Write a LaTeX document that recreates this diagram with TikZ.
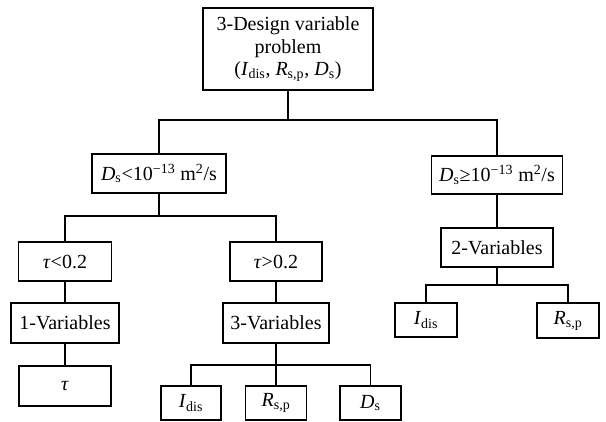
\documentclass[tikz,border=0pt]{standalone}
\usepackage{fontspec}
\setmainfont{Liberation Serif}
\begin{document}
\begin{tikzpicture}[x=0.75pt,y=-0.75pt,
  box/.style={draw,line width=1.2pt,inner sep=0pt,align=center,font=\fontsize{15}{17}\selectfont},
  link/.style={line width=1.2pt}]
\useasboundingbox (0,0) rectangle (606,421);
\newcommand{\Ii}{\textit{I}\textsubscript{dis}}
\newcommand{\Rr}{\textit{R}\textsubscript{s,p}}
\newcommand{\Dd}{\textit{D}\textsubscript{s}}
\node[box,minimum width=127.5pt,minimum height=61.5pt] (top) at (288,49) {3-Design variable\\problem\\(\Ii, \Rr, \Dd)};
\node[box,minimum width=100.5pt,minimum height=29.25pt] (lt) at (159,173.5) {\Dd<10\textsuperscript{−13} m\textsuperscript{2}/s};
\node[box,minimum width=98.25pt,minimum height=28.5pt] (rt) at (497,175) {\Dd≥10\textsuperscript{−13} m\textsuperscript{2}/s};
\node[box,minimum width=69.75pt,minimum height=29.25pt] (tl) at (65,261.5) {\textit{τ}<0.2};
\node[box,minimum width=69pt,minimum height=29.25pt] (tg) at (276,261.5) {\textit{τ}>0.2};
\node[box,minimum width=81pt,minimum height=30pt] (v1) at (65,323) {1-Variables};
\node[box,minimum width=79.5pt,minimum height=30pt] (v3) at (276,323) {3-Variables};
\node[box,minimum width=69pt,minimum height=30pt] (tau) at (65,386) {\textit{τ}};
\node[box,minimum width=84pt,minimum height=29.25pt] (v2) at (497,247.5) {2-Variables};
\node[box,minimum width=45pt,minimum height=25.5pt] (i3) at (191,403) {\Ii};
\node[box,minimum width=45.75pt,minimum height=25.5pt] (r3) at (276,403) {\Rr};
\node[box,minimum width=45.75pt,minimum height=25.5pt] (d3) at (370.5,403) {\Dd};
\node[box,minimum width=46.5pt,minimum height=25.5pt] (i2) at (426,320) {\Ii};
\node[box,minimum width=46.5pt,minimum height=26pt] (r2) at (568,320.5) {\Rr};
\coordinate (b1) at (288,120);
\coordinate (b2) at (159,216);
\coordinate (b3) at (276,365);
\coordinate (b4) at (497,285);
\draw[link] (top.south) -- (b1);
\draw[link] (lt.north) |- (b1) -| (rt.north);
\draw[link] (lt.south) -- (b2);
\draw[link] (tl.north) |- (b2) -| (tg.north);
\draw[link] (tl) -- (v1);
\draw[link] (v1) -- (tau);
\draw[link] (tg) -- (v3);
\draw[link] (v3.south) -- (b3);
\draw[link] (i3.north) |- (b3) -| (d3.north);
\draw[link] (b3) -- (r3.north);
\draw[link] (rt) -- (v2);
\draw[link] (v2.south) -- (b4);
\draw[link] (i2.north) |- (b4) -| (r2.north);
\end{tikzpicture}
\end{document}
